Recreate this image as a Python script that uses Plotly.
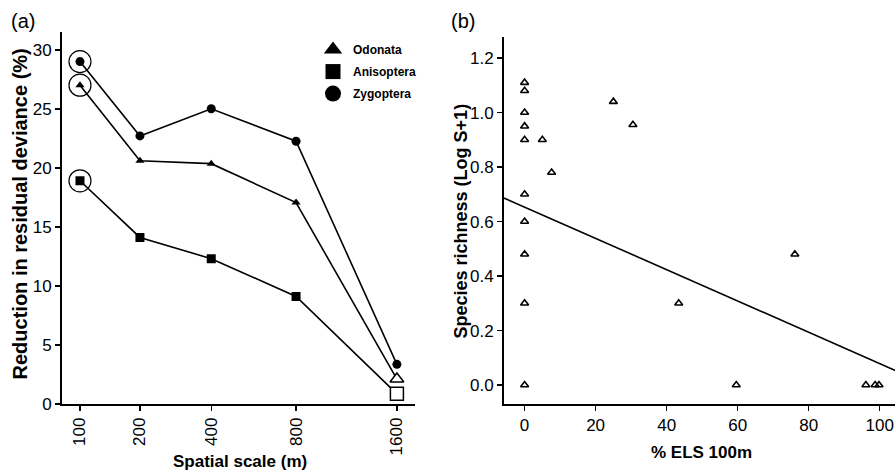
import plotly.graph_objects as go

# ---------- data (a) ----------
scales = [100, 200, 400, 800, 1600]
scale_labels = ["100", "200", "400", "800", "1600"]
odonata = [27.0, 20.6, 20.35, 17.05, 2.1]
anisoptera = [18.9, 14.1, 12.3, 9.1, 0.85]
zygoptera = [29.0, 22.7, 25.0, 22.25, 3.35]

# ---------- data (b) ----------
els_pct = [0, 0, 0, 0, 0, 0, 0, 0, 0, 0, 5.0, 7.6, 25.0, 30.5, 43.4, 59.6, 76.1, 96.1, 98.7, 99.8]
richness = [1.11, 1.08, 1.00, 0.95, 0.90, 0.70, 0.60, 0.48, 0.30, 0.00,
            0.90, 0.78, 1.04, 0.955, 0.30, 0.00, 0.48, 0.00, 0.00, 0.00]
fit_intercept = 0.653
fit_slope = -0.00574

# x axis of panel (a) is drawn on a fourth-root scale
xs = [s ** 0.25 for s in scales]

W, HR = 895, 473      # reference picture size (layout positions are given in these pixels)
H = 484               # figure height
FONT = "Liberation Sans, Arial, sans-serif"

fig = go.Figure()

line = dict(color="black", width=1.6)

def add_series(vals, symbol, size, open_last):
    fig.add_trace(go.Scatter(
        x=xs, y=vals, mode="lines",
        line=line, showlegend=False, xaxis="x", yaxis="y", hoverinfo="skip"))
    n = len(vals) - 1 if open_last else len(vals)
    fig.add_trace(go.Scatter(
        x=xs[:n], y=vals[:n], mode="markers",
        marker=dict(symbol=symbol, size=size, color="black"),
        showlegend=False, xaxis="x", yaxis="y", hoverinfo="skip"))
    if open_last:
        fig.add_trace(go.Scatter(
            x=[xs[-1]], y=[vals[-1]], mode="markers",
            marker=dict(symbol=symbol, size=size + 4, color="white",
                        line=dict(color="black", width=1.5)),
            showlegend=False, xaxis="x", yaxis="y", hoverinfo="skip"))

add_series(odonata, "triangle-up", 8, True)
add_series(anisoptera, "square", 9, True)
add_series(zygoptera, "circle", 9, False)

# highlight circles around first points
fig.add_trace(go.Scatter(
    x=[xs[0]] * 3, y=[zygoptera[0], odonata[0], anisoptera[0]], mode="markers",
    marker=dict(symbol="circle-open", size=22, color="black", line=dict(width=1.2)),
    showlegend=False, xaxis="x", yaxis="y", hoverinfo="skip"))

# legend entries
for name, sym, sz in [("Odonata", "triangle-up", 16), ("Anisoptera", "square", 15), ("Zygoptera", "circle", 16)]:
    fig.add_trace(go.Scatter(
        x=[None], y=[None], mode="markers", name=name,
        marker=dict(symbol=sym, size=sz, color="black"),
        xaxis="x", yaxis="y", legendgroup=name))

# panel (b)
fig.add_trace(go.Scatter(
    x=els_pct, y=richness, mode="markers",
    marker=dict(symbol="triangle-up-open", size=7, color="black", line=dict(width=1.6)),
    showlegend=False, xaxis="x2", yaxis="y2", hoverinfo="skip"))
fit_x = [-6, 105]
fig.add_trace(go.Scatter(
    x=fit_x, y=[fit_intercept + fit_slope * v for v in fit_x], mode="lines",
    line=dict(color="black", width=1.6),
    showlegend=False, xaxis="x2", yaxis="y2", hoverinfo="skip"))

axis_common = dict(showline=True, linecolor="black", linewidth=2, ticks="outside",
                   ticklen=5, tickwidth=1.5, tickcolor="black", showgrid=False,
                   zeroline=False, mirror=False,
                   tickfont=dict(family=FONT, size=17, color="black"))

def py(p):
    return 1 - p / HR

def label(text, x, y, size, angle=0, bold=True):
    return dict(text=f"<b>{text}</b>" if bold else text, x=x / W, y=py(y),
                xref="paper", yref="paper", xanchor="center", yanchor="middle",
                showarrow=False, textangle=angle,
                font=dict(family=FONT, size=size, color="black"))

fig.update_layout(
    width=W, height=H,
    margin=dict(l=0, r=0, t=0, b=0),
    paper_bgcolor="white", plot_bgcolor="white",
    font=dict(family=FONT, color="black"),
    xaxis=dict(domain=[62 / W, 415 / W], range=[2.983, 6.505],
               tickvals=xs, ticktext=scale_labels, tickangle=-90,
               anchor="y", **axis_common),
    yaxis=dict(domain=[py(403), py(32)], range=[0, 31.5],
               tickvals=[0, 5, 10, 15, 20, 25, 30],
               anchor="x", **axis_common),
    xaxis2=dict(domain=[504 / W, 1.0], range=[-5.8, 104.3],
                tickvals=[0, 20, 40, 60, 80, 100],
                anchor="y2", **axis_common),
    yaxis2=dict(domain=[py(403), py(37)], range=[-0.069, 1.277],
                tickvals=[0, 0.2, 0.4, 0.6, 0.8, 1.0, 1.2], tickformat=".1f",
                anchor="x2", **axis_common),
    legend=dict(x=313 / W, y=py(35), xanchor="left", yanchor="top",
                font=dict(family=FONT, size=12, color="black", weight="bold"),
                itemsizing="trace", bgcolor="rgba(0,0,0,0)", tracegroupgap=3),
    annotations=[
        label("(a)", 23, 21, 20, bold=False),
        label("(b)", 463, 21, 20, bold=False),
        label("Reduction in residual deviance (%)", 20, 214, 20, angle=-90),
        label("Spatial scale (m)", 240, 461, 17),
        label("Species richness (Log S+1)", 461, 220, 18, angle=-90),
        label("% ELS 100m", 701, 452, 17),
    ],
)

post = (
    "for (const el of [document.documentElement, document.body]) {"
    "el.style.margin='0'; el.style.padding='0'; el.style.overflow='hidden'; }"
)
fig.write_html("out.html", config={"displayModeBar": False, "staticPlot": True},
               post_script=post)
